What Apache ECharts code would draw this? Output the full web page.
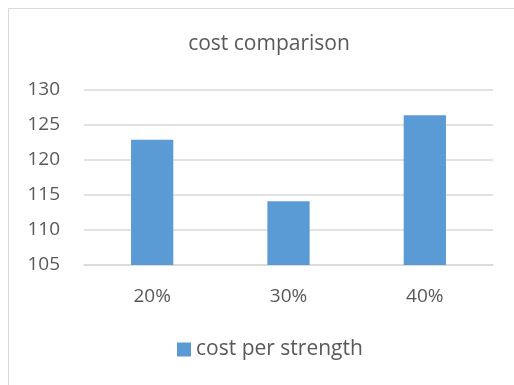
<!DOCTYPE html>
<html>
<head>
<meta charset="utf-8">
<script src="https://cdn.jsdelivr.net/npm/echarts@6/dist/echarts.min.js"></script>
<style>
  html, body { margin: 0; padding: 0; background: #fff; }
  #d { width: 514px; height: 385px; }
</style>
</head>
<body>
<div id="d"></div>
<script>
var categories = ['20%', '30%', '40%'];
var costPerStrength = [122.9, 114.1, 126.4];
var seriesName = 'cost per strength';
var yTicks = { min: 105, max: 130, interval: 5 };

var myChart = echarts.init(document.getElementById('d'));
var font = '"Open Sans", sans-serif';
option = {
    backgroundColor: '#fff',
    graphic: [{
        type: 'rect',
        shape: { x: 8.5, y: 8.5, width: 520, height: 400 },
        style: { fill: 'none', stroke: '#d9d9d9', lineWidth: 1 },
        silent: true
    }],
    title: {
        text: 'cost comparison',
        left: 264,
        top: 29,
        textAlign: 'center',
        textStyle: { color: '#595959', fontSize: 21, fontWeight: 'normal', fontFamily: font }
    },
    grid: { left: 84, right: 21, top: 90, bottom: 120 },
    xAxis: {
        type: 'category',
        data: categories,
        axisLine: { lineStyle: { color: '#d9d9d9', width: 1.5 } },
        axisTick: { show: false },
        axisLabel: { color: '#595959', fontSize: 19, margin: 22, fontFamily: font }
    },
    yAxis: {
        type: 'value',
        min: yTicks.min,
        max: yTicks.max,
        interval: yTicks.interval,
        axisLine: { show: false },
        axisTick: { show: false },
        splitLine: { lineStyle: { color: '#d9d9d9', width: 1.5 } },
        axisLabel: { color: '#595959', fontSize: 19, margin: 24, fontFamily: font }
    },
    legend: {
        data: [seriesName],
        bottom: 20,
        left: 172,
        itemWidth: 14,
        itemHeight: 14,
        itemGap: 7,
        icon: 'rect',
        textStyle: { color: '#595959', fontSize: 21, fontFamily: font }
    },
    series: [{
        name: seriesName,
        type: 'bar',
        data: costPerStrength,
        barWidth: '31%',
        itemStyle: { color: '#5b9bd5' }
    }]
};
option && myChart.setOption(option);
</script>
</body>
</html>
